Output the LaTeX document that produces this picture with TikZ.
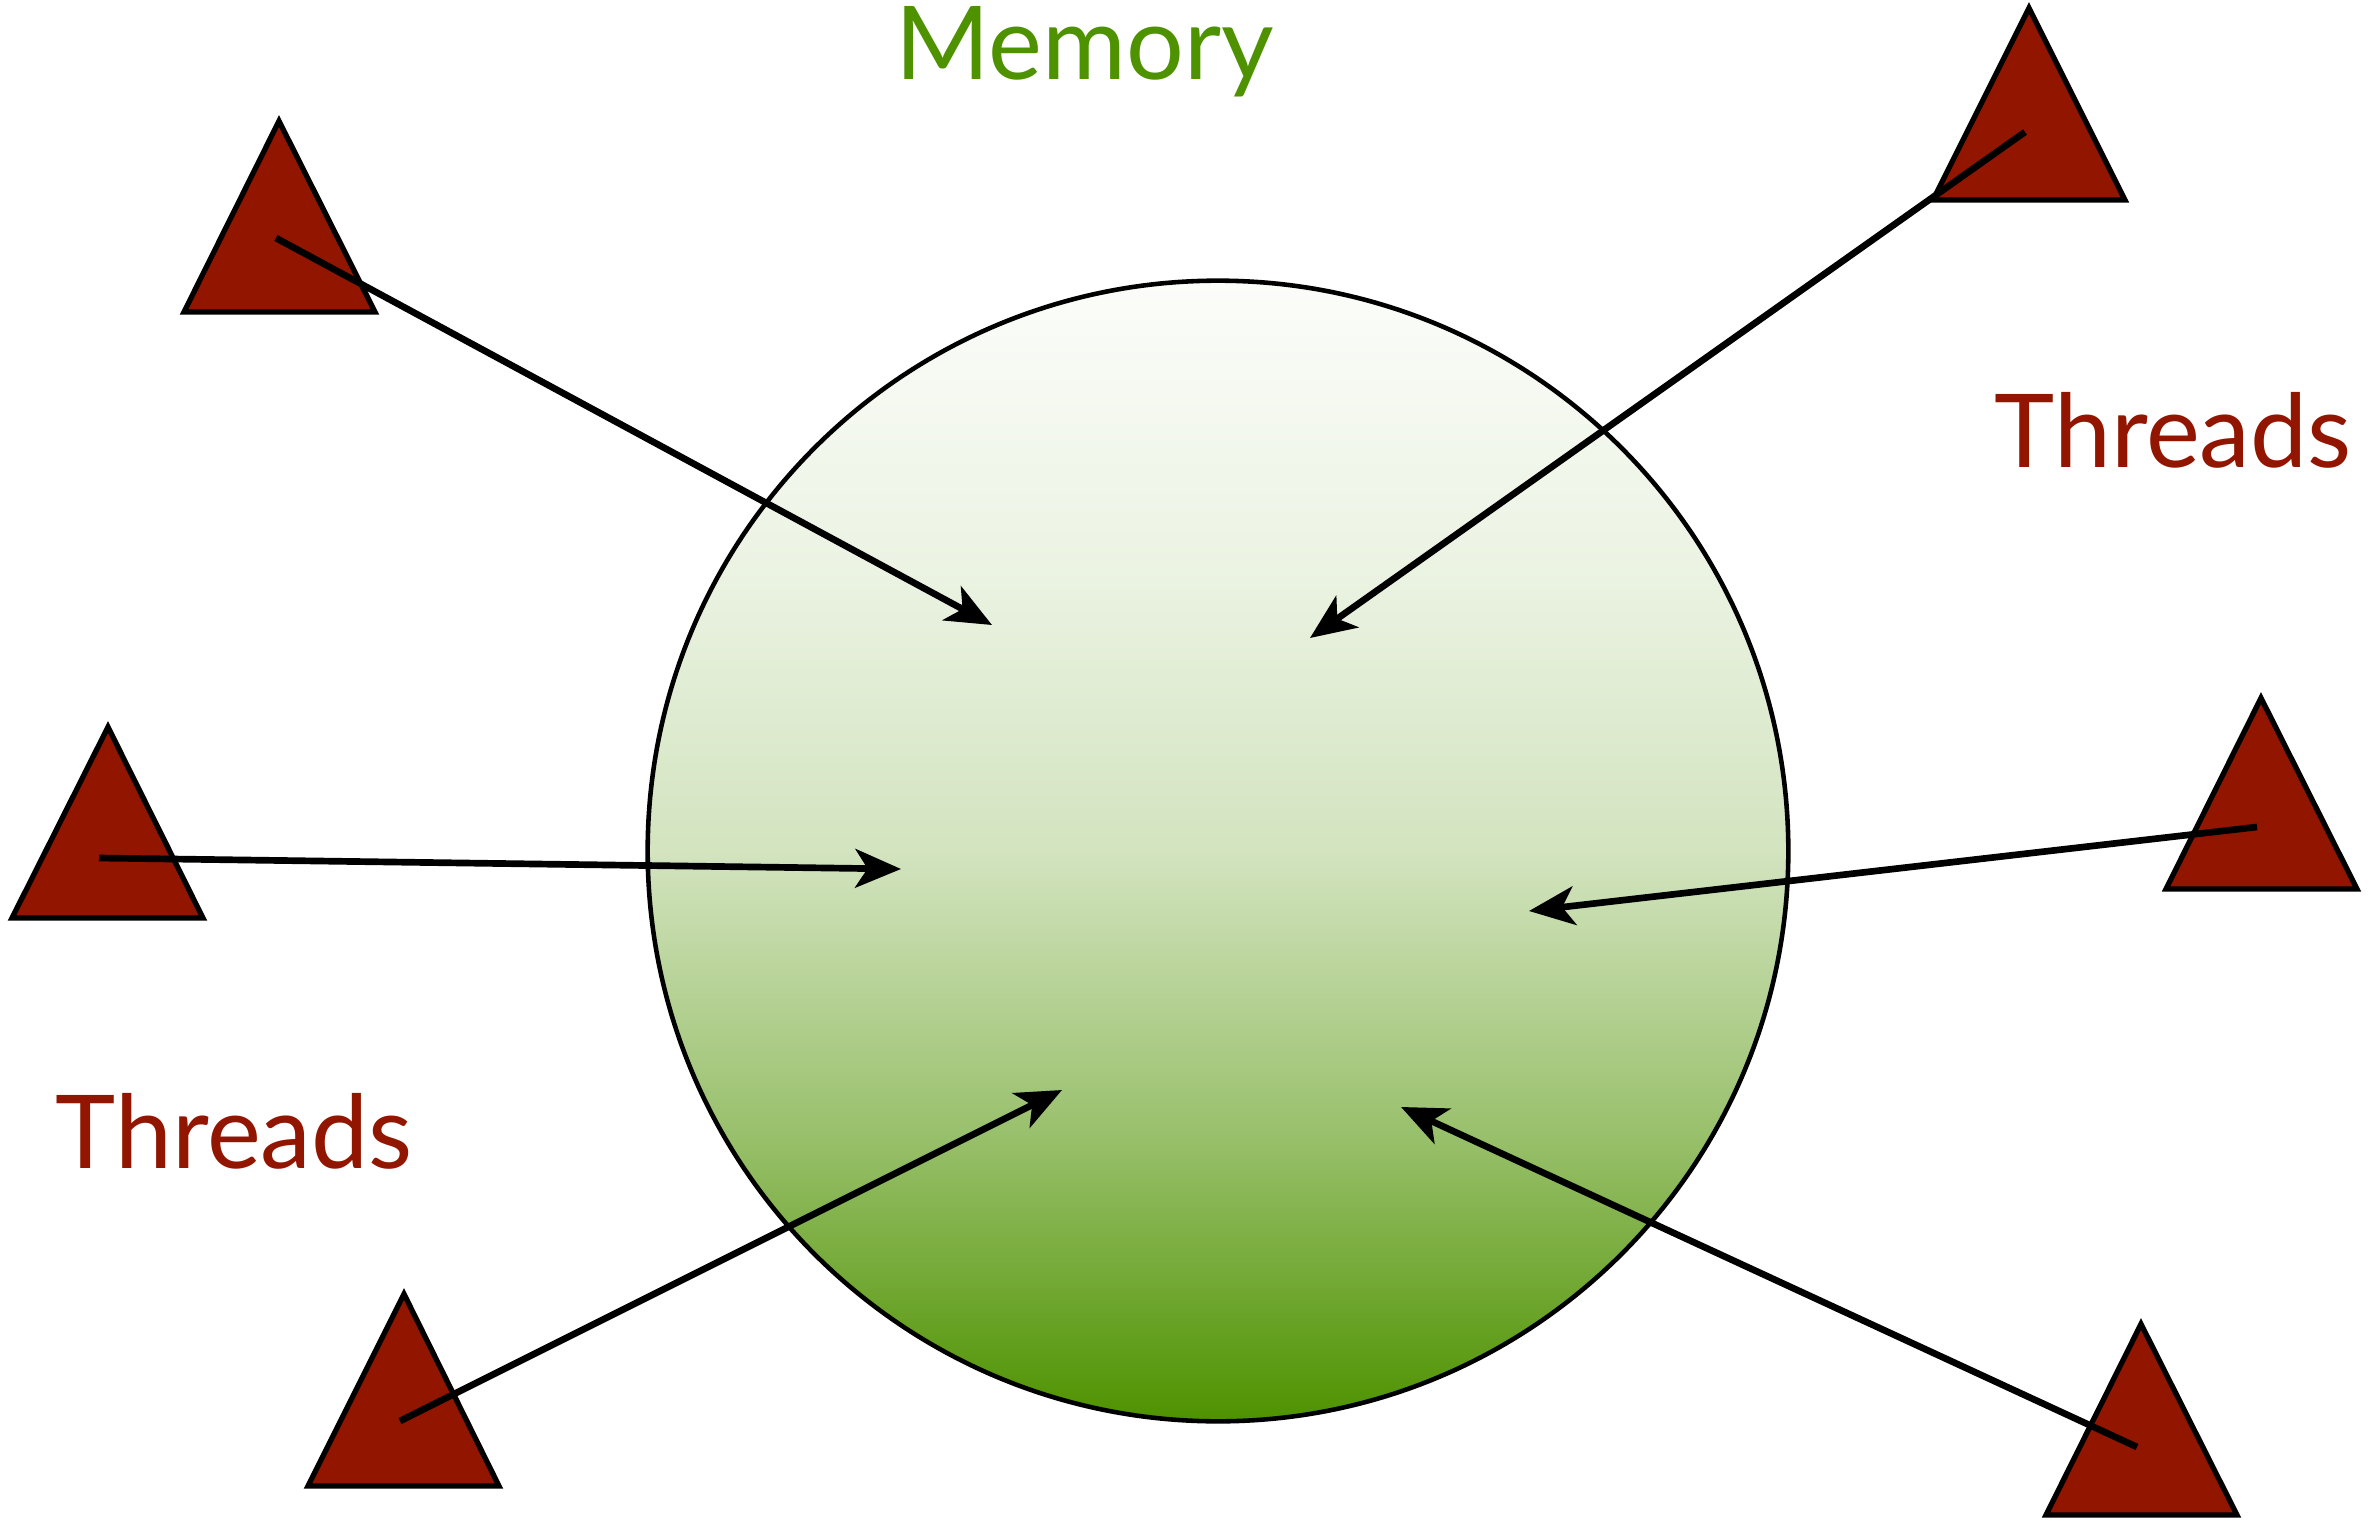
\documentclass[tikz,border=0pt]{standalone}
\usepackage{fontspec}
\setmainfont{Lato}
\usetikzlibrary{arrows.meta}
\definecolor{memgreen}{RGB}{78,146,0}
\definecolor{thred}{RGB}{146,21,0}
\pgfdeclareverticalshading{memshade}{100bp}{
  color(0bp)=(memgreen);
  color(25bp)=(memgreen);
  color(37.5bp)=(memgreen!58!white);
  color(50bp)=(memgreen!25!white);
  color(62.5bp)=(memgreen!11!white);
  color(75bp)=(memgreen!2!white);
  color(100bp)=(memgreen!2!white)}
\tikzset{
  thread/.style={fill=thred, draw=black, line width=1.5pt, line join=miter},
  access/.style={draw=black, line width=1.9pt, -{Stealth[length=13pt,width=11pt,inset=3.5pt]}},
  lbl/.style={font=\fontsize{29}{34}\selectfont, anchor=base west, inner sep=0pt}
}
\begin{document}
\begin{tikzpicture}[x=0.01cm,y=-0.01cm]
\useasboundingbox (0,0) rectangle (2378,1527);
% memory
\node[circle, minimum size=11.4cm, inner sep=0pt, draw=black, line width=1.3pt, shading=memshade] (mem) at (1218,851) {};
\node[lbl, text=memgreen] (memlbl) at (895,79) {Memory};
\node[lbl, text=thred] (thr1) at (1994,467) {Threads};
\node[lbl, text=thred] (thr2) at (55,1168) {Threads};
% triangles
\draw[thread] (279,121) -- (375,312) -- (184,312) -- cycle;
\draw[thread] (2029,8) -- (2125,200) -- (1933,200) -- cycle;
\draw[thread] (108,727) -- (203,918) -- (12,918) -- cycle;
\draw[thread] (2261,698) -- (2357,889) -- (2166,889) -- cycle;
\draw[thread] (404,1294) -- (499,1486) -- (308,1486) -- cycle;
\draw[thread] (2141,1324) -- (2237,1515) -- (2046,1515) -- cycle;
% arrow endpoints
\coordinate (s1) at (276,238);  \coordinate (e1) at (992,625);
\coordinate (s2) at (2025,132); \coordinate (e2) at (1310,638);
\coordinate (s3) at (99,858);   \coordinate (e3) at (901,869);
\coordinate (s4) at (2257,827); \coordinate (e4) at (1529,911);
\coordinate (s5) at (400,1421); \coordinate (e5) at (1062,1090);
\coordinate (s6) at (2137,1447);\coordinate (e6) at (1401,1107);
\draw[access] (s1) -- (e1);
\draw[access] (s2) -- (e2);
\draw[access] (s3) -- (e3);
\draw[access] (s4) -- (e4);
\draw[access] (s5) -- (e5);
\draw[access] (s6) -- (e6);
\end{tikzpicture}
\end{document}
